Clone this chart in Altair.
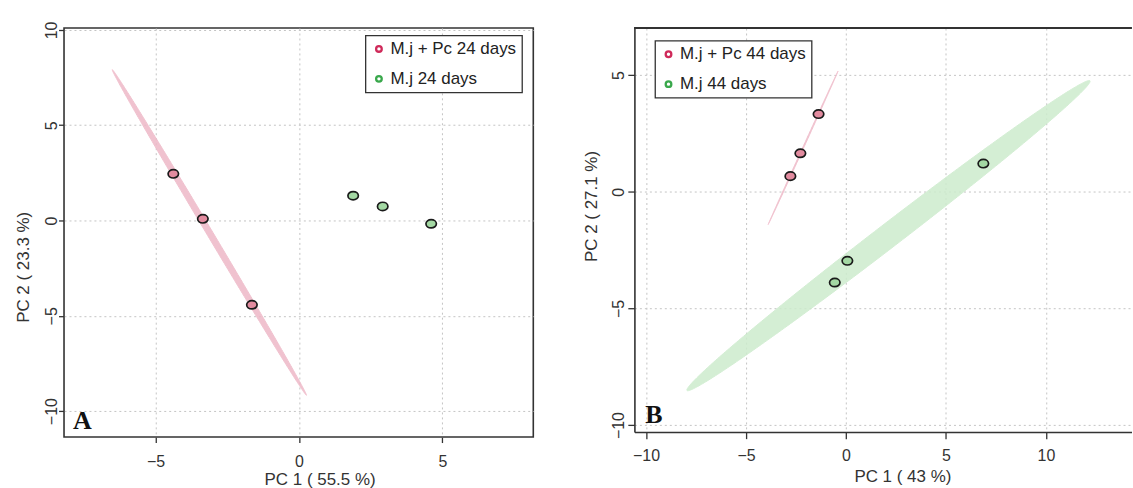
import numpy as np
import pandas as pd
import altair as alt

# ---------------- data ----------------
# Panel A (24 days)
a_groups = ["M.j + Pc 24 days", "M.j 24 days"]
a_pc_x = [-4.38, -3.35, -1.64]
a_pc_y = [2.45, 0.09, -4.42]
a_mj_x = [1.89, 2.92, 4.61]
a_mj_y = [1.30, 0.74, -0.17]
a_x_ticks = [-5, 0, 5]
a_y_ticks = [-10, -5, 0, 5, 10]
a_xdom = [-8.19, 8.17]
a_ydom = [-11.36, 10.10]

# Panel B (44 days)
b_groups = ["M.j + Pc 44 days", "M.j 44 days"]
b_pc_x = [-1.37, -2.28, -2.78]
b_pc_y = [3.33, 1.65, 0.67]
b_mj_x = [6.87, 0.07, -0.56]
b_mj_y = [1.21, -2.96, -3.89]
b_x_ticks = [-10, -5, 0, 5, 10]
b_y_ticks = [-10, -5, 0, 5]
b_xdom = [-10.58, 14.28]
b_ydom = [-10.30, 7.02]

panel_letters = ["A", "B"]
letter_x = [-7.55, -9.6]
letter_y = [-10.54, -9.56]

# ---------------- style ----------------
PT_FILL = ["#e28b9f", "#a3d8a3"]
LEG_RING = ["#cf2a5a", "#3aa84c"]
ELL_FILL = ["#eeb8c7", "#cdeccd"]
FONT = "Liberation Sans"
TXT = "#333333"
ELLIPSE_SHAPE = "M-1,0A1,0.8,0,1,0,1,0A1,0.8,0,1,0,-1,0Z"


def conf_ellipse(xs, ys, level=0.95, n=181):
    """95% normal confidence ellipse of a group (as in ellipse::ellipse)."""
    xs = np.asarray(xs, float)
    ys = np.asarray(ys, float)
    cov = np.cov(xs, ys)
    cx, cy = xs.mean(), ys.mean()
    sx, sy = np.sqrt(cov[0, 0]), np.sqrt(cov[1, 1])
    r = cov[0, 1] / (sx * sy)
    t = np.sqrt(-2 * np.log(1 - level))
    d = np.arccos(np.clip(r, -1, 1))
    phi = np.linspace(0, np.pi, n)
    ex = cx + t * sx * np.cos(phi)
    y1 = cy + t * sy * np.cos(phi - d)
    y2 = cy + t * sy * np.cos(phi + d)
    return pd.DataFrame({"x": ex, "y": np.minimum(y1, y2), "y2": np.maximum(y1, y2)})


def panel(groups, pcx, pcy, mjx, mjy, xdom, ydom, xticks, yticks, w, h,
          xtitle, ytitle, xt_pos, yt_pos, x_lab_pad, y_lab_pad, tick_size,
          leg_xy, letter, lxy, ellipse_for, full_frame):
    pts = pd.DataFrame({
        "x": list(pcx) + list(mjx),
        "y": list(pcy) + list(mjy),
        "group": [groups[0]] * len(pcx) + [groups[1]] * len(mjx),
    })
    xs = alt.Scale(domain=xdom, nice=False, zero=False)
    ys = alt.Scale(domain=ydom, nice=False, zero=False)
    common = dict(grid=True, gridColor="#c4c4c4", gridDash=[2, 3], gridWidth=1,
                  domain=not full_frame, domainColor="#333333", domainWidth=1.6,
                  ticks=True, tickSize=tick_size, tickColor="#333333", tickWidth=1.3,
                  labelFont=FONT, labelFontSize=16, labelColor=TXT,
                  titleFont=FONT, titleFontSize=17, titleFontWeight="normal",
                  titleColor=TXT)
    xaxis = alt.Axis(values=xticks, title=xtitle, labelPadding=x_lab_pad,
                     titleX=xt_pos[0], titleY=xt_pos[1], titleAlign="center",
                     titleBaseline="alphabetic", **common)
    yaxis = alt.Axis(values=yticks, title=ytitle, labelAngle=270,
                     labelAlign="center", labelBaseline="alphabetic",
                     labelPadding=y_lab_pad,
                     titleAngle=270, titleX=yt_pos[0], titleY=yt_pos[1],
                     titleAlign="center", titleBaseline="alphabetic", **common)

    layers = []
    for gi, (gx, gy) in enumerate([(pcx, pcy), (mjx, mjy)]):
        if gi in ellipse_for:
            ell = conf_ellipse(gx, gy)
            layers.append(
                alt.Chart(ell).mark_area(color=ELL_FILL[gi], opacity=0.85,
                                         stroke=ELL_FILL[gi], strokeWidth=1,
                                         clip=True)
                .encode(x=alt.X("x:Q", scale=xs, axis=xaxis),
                        y=alt.Y("y:Q", scale=ys, axis=yaxis),
                        y2="y2:Q")
            )
    if not full_frame:
        layers.append(alt.Chart(pts).mark_rule(color="#333333", strokeWidth=1.6)
                      .encode(y=alt.value(0)))
    # legend carrier (hidden under the points)
    legend = alt.Legend(title=None, orient="none", legendX=leg_xy[0], legendY=leg_xy[1],
                        symbolType="circle", symbolSize=32, symbolStrokeWidth=2.3,
                        labelFont=FONT, labelFontSize=17, labelColor="#222222",
                        labelOffset=3, rowPadding=12, padding=5,
                        strokeColor="#333333", fillColor="white")
    layers.append(
        alt.Chart(pts).mark_point(filled=False, size=25, strokeWidth=2, opacity=1)
        .encode(x=alt.X("x:Q", scale=xs, axis=xaxis),
                y=alt.Y("y:Q", scale=ys, axis=yaxis),
                stroke=alt.Stroke("group:N", scale=alt.Scale(domain=groups, range=LEG_RING),
                                  legend=legend))
    )
    layers.append(
        alt.Chart(pts).mark_point(shape=ELLIPSE_SHAPE, filled=True, size=110,
                                  stroke="#1a1a1a", strokeWidth=1.7, opacity=1)
        .encode(x=alt.X("x:Q", scale=xs, axis=xaxis),
                y=alt.Y("y:Q", scale=ys, axis=yaxis),
                fill=alt.Fill("group:N", scale=alt.Scale(domain=groups, range=PT_FILL),
                              legend=None))
    )
    lab = pd.DataFrame({"x": [lxy[0]], "y": [lxy[1]], "t": [letter]})
    layers.append(
        alt.Chart(lab).mark_text(font="Liberation Serif", fontWeight="bold", fontSize=26,
                                 color="#111111", align="center", baseline="middle")
        .encode(x=alt.X("x:Q", scale=xs, axis=xaxis),
                y=alt.Y("y:Q", scale=ys, axis=yaxis), text="t:N")
    )
    view = (alt.ViewBackground(stroke="#333333", strokeWidth=1.6, fill="white")
            if full_frame else alt.ViewBackground(stroke="transparent", fill="white"))
    return alt.layer(*layers).resolve_scale(stroke="independent", fill="independent").properties(
        width=w, height=h, view=view)


chart_a = panel(a_groups, a_pc_x, a_pc_y, a_mj_x, a_mj_y, a_xdom, a_ydom,
                a_x_ticks, a_y_ticks, 470.6, 410.2,
                "PC 1 ( 55.5 %)", "PC 2 ( 23.3 %)",
                (256.3, 47.5), (-36.1, 239.5), 11.5, 1.7, 5.5,
                (302.3, 7.5), panel_letters[0], (letter_x[0], letter_y[0]),
                ellipse_for=[0], full_frame=True)

chart_b = panel(b_groups, b_pc_x, b_pc_y, b_mj_x, b_mj_y, b_xdom, b_ydom,
                b_x_ticks, b_y_ticks, 498.5, 405.2,
                "PC 1 ( 43 %)", "PC 2 ( 27.1 %)",
                (268.7, 50.0), (-38.3, 178.5), 8.7, 4.4, 6.6,
                (20.7, 12.8), panel_letters[1], (letter_x[1], letter_y[1]),
                ellipse_for=[0, 1], full_frame=False)

chart = alt.hconcat(chart_a, chart_b, spacing=101).properties(
    padding={"left": 13.2, "top": 19.4, "right": 0, "bottom": 0},
    bounds="flush",
    background="white",
).resolve_scale(stroke="independent", fill="independent").configure_legend(strokeWidth=1.3)

chart.save("out.html", embed_options={"renderer": "svg", "actions": False})
